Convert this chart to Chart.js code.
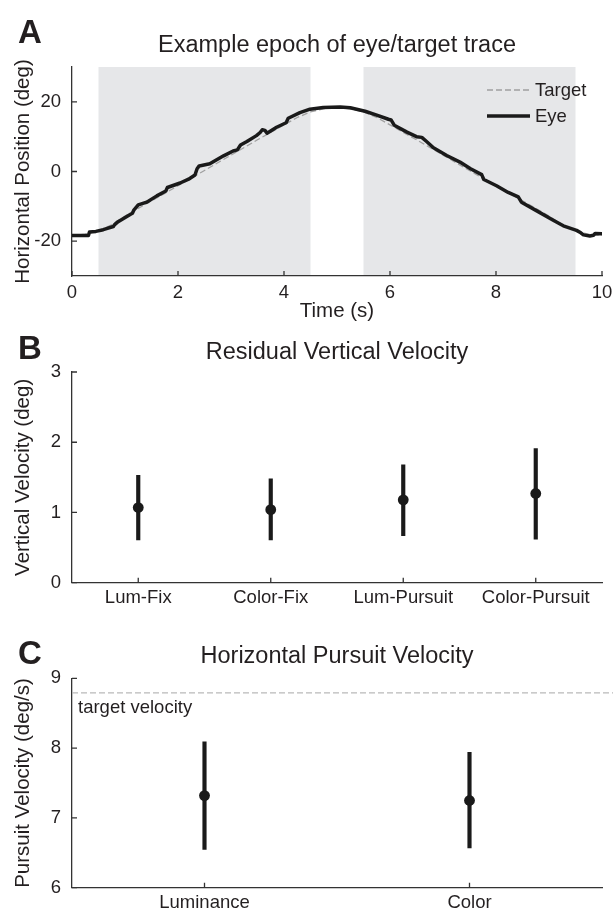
<!DOCTYPE html>
<html>
<head>
<meta charset="utf-8">
<script src="https://cdn.jsdelivr.net/npm/chart.js@4.4.1/dist/chart.umd.min.js"></script>
<style>
  html, body { margin: 0; padding: 0; background: #fff; }
  #wrap { position: relative; width: 613px; height: 912px; }
  canvas { position: absolute; left: 0; }
</style>
</head>
<body>
<div id="wrap">
  <canvas id="chartA" width="613" height="330" style="top:0px"></canvas>
  <canvas id="chartB" width="613" height="285" style="top:330px"></canvas>
  <canvas id="chartC" width="613" height="297" style="top:615px"></canvas>
</div>
<script>
// A - eye / target trace
const targetTime = [0, 0.25, 0.5, 0.75, 1, 1.25, 1.5, 1.75, 2, 2.25, 2.5, 2.75, 3, 3.25, 3.5, 3.75, 4, 4.25, 4.5, 4.75,
  5, 5.25, 5.5, 5.75, 6, 6.25, 6.5, 6.75, 7, 7.25, 7.5, 7.75, 8, 8.25, 8.5, 8.75, 9, 9.25, 9.5, 9.75, 10];
const targetPos = [-18.3, -18.0, -17.1, -15.3, -12.8, -10.6, -8.4, -6.3, -4.1, -1.9, 0.3, 2.5, 4.7, 6.9, 9.1, 11.2, 13.4, 15.5, 17.1, 18.0,
  18.3, 18.0, 17.1, 15.5, 13.4, 11.2, 9.1, 6.9, 4.7, 2.5, 0.3, -1.9, -4.1, -6.3, -8.4, -10.6, -12.8, -15.3, -17.1, -18.0, -18.3];
const eyeTime = [0, 0.31, 0.33, 0.45, 0.59, 0.78, 0.8, 0.87, 1.09, 1.14, 1.17, 1.25, 1.41, 1.6, 1.77, 1.8, 2.04, 2.2, 2.32, 2.36,
  2.4, 2.6, 2.86, 3.04, 3.12, 3.18, 3.3, 3.48, 3.55, 3.59, 3.64, 3.68, 3.86, 4.04, 4.08, 4.3, 4.49, 4.74, 5.06, 5.25,
  5.53, 5.75, 5.97, 6.02, 6.08, 6.32, 6.5, 6.6, 6.69, 6.82, 7.07, 7.32, 7.52, 7.73, 7.77, 8.01, 8.23, 8.42, 8.48, 8.77,
  9.08, 9.27, 9.52, 9.6, 9.65, 9.77, 9.84, 9.87, 10];
const eyePos = [-18.4, -18.4, -17.4, -17.2, -16.7, -15.8, -15.3, -14.4, -12.4, -12.0, -11.0, -9.6, -8.8, -7.0, -5.6, -4.6, -3.3, -2.2, -1.0, 0.8,
  1.6, 2.2, 4.5, 5.9, 6.2, 7.6, 8.6, 10.3, 11.2, 12.0, 11.8, 11.0, 12.7, 14.0, 15.3, 16.9, 17.9, 18.4, 18.5, 18.3,
  17.3, 16.2, 15.0, 14.8, 13.3, 11.3, 10.0, 9.8, 8.6, 6.8, 4.6, 2.7, 0.8, -0.9, -2.3, -4.1, -6.0, -7.3, -8.8, -11.3,
  -14.0, -15.6, -16.9, -17.6, -18.2, -18.5, -18.3, -17.8, -17.9];
const shadeStart = [0.5, 5.5];
const shadeEnd = [4.5, 9.5];
const positionTicks = [-20, 0, 20];

// B - residual vertical velocity
const vertCategories = ['Lum-Fix', 'Color-Fix', 'Lum-Pursuit', 'Color-Pursuit'];
const vertMean = [1.07, 1.04, 1.18, 1.27];
const vertLow = [0.61, 0.61, 0.67, 0.62];
const vertHigh = [1.53, 1.48, 1.68, 1.91];

// C - horizontal pursuit velocity
const pursuitCategories = ['Luminance', 'Color'];
const pursuitMean = [7.32, 7.25];
const pursuitLow = [6.55, 6.57];
const pursuitHigh = [8.09, 7.94];
const targetVelocity = 8.79;

const ink = '#231f20';
const axisColor = '#333333';
const fontFamily = '"Liberation Sans", Arial, Helvetica, sans-serif';

Chart.defaults.font.family = fontFamily;
Chart.defaults.color = ink;
Chart.defaults.animation = false;
Chart.defaults.plugins.legend.display = false;
Chart.defaults.plugins.tooltip.enabled = false;

// ticks pointing into the plot, like the original figure
const innerTicks = {
  id: 'innerTicks',
  afterDraw(chart) {
    const { ctx, chartArea: a, scales: { x, y } } = chart;
    ctx.save();
    ctx.strokeStyle = axisColor;
    ctx.lineWidth = 1.3;
    ctx.beginPath();
    x.ticks.forEach((t, i) => {
      const px = x.getPixelForTick(i);
      ctx.moveTo(px, a.bottom);
      ctx.lineTo(px, a.bottom - 5);
    });
    y.ticks.forEach((t, i) => {
      const py = y.getPixelForTick(i);
      ctx.moveTo(a.left, py);
      ctx.lineTo(a.left + 5, py);
    });
    ctx.stroke();
    ctx.restore();
  }
};

const panelText = {
  id: 'panelText',
  afterDraw(chart, args, opts) {
    const { ctx, chartArea: a } = chart;
    ctx.save();
    ctx.fillStyle = ink;
    ctx.textBaseline = 'alphabetic';
    ctx.textAlign = 'left';
    ctx.font = 'bold 33px ' + fontFamily;
    ctx.fillText(opts.letter, 18, opts.letterBaseline);
    ctx.textAlign = 'center';
    ctx.font = '23.5px ' + fontFamily;
    ctx.fillText(opts.title, (a.left + a.right) / 2, opts.titleBaseline);
    ctx.restore();
  }
};

const shading = {
  id: 'shading',
  beforeDraw(chart, args, opts) {
    const { ctx, chartArea: a, scales: { x } } = chart;
    ctx.save();
    ctx.fillStyle = '#e6e7e9';
    opts.start.forEach((s, i) => {
      const x0 = x.getPixelForValue(s);
      const x1 = x.getPixelForValue(opts.end[i]);
      ctx.fillRect(x0, a.top, x1 - x0, a.bottom - a.top);
    });
    ctx.restore();
  }
};

const insideLegend = {
  id: 'insideLegend',
  afterDraw(chart) {
    const { ctx, chartArea: a } = chart;
    ctx.save();
    ctx.font = '18.5px ' + fontFamily;
    ctx.textBaseline = 'middle';
    ctx.textAlign = 'left';
    chart.data.datasets.forEach((ds, i) => {
      const y = a.top + 23 + i * 26;
      ctx.strokeStyle = ds.borderColor;
      ctx.lineWidth = ds.borderWidth;
      ctx.setLineDash(ds.borderDash || []);
      ctx.beginPath();
      ctx.moveTo(a.right - 115, y);
      ctx.lineTo(a.right - 72, y);
      ctx.stroke();
      ctx.setLineDash([]);
      ctx.fillStyle = ink;
      ctx.fillText(ds.label, a.right - 67, y + 1);
    });
    ctx.restore();
  }
};

const targetLine = {
  id: 'targetLine',
  beforeDatasetsDraw(chart, args, opts) {
    const { ctx, chartArea: a, scales: { y } } = chart;
    const py = y.getPixelForValue(opts.value);
    ctx.save();
    ctx.strokeStyle = '#b9b9b9';
    ctx.lineWidth = 1.2;
    ctx.setLineDash([6, 3]);
    ctx.beginPath();
    ctx.moveTo(a.left, py);
    ctx.lineTo(a.right + 11, py);
    ctx.stroke();
    ctx.setLineDash([]);
    ctx.fillStyle = ink;
    ctx.font = '18.5px ' + fontFamily;
    ctx.textAlign = 'left';
    ctx.fillText(opts.label, a.left + 6, py + 20);
    ctx.restore();
  }
};

function yAxis(min, max, title) {
  return {
    min: min,
    max: max,
    afterFit: s => { s.width = 72; s.paddingTop = 0; s.paddingBottom = 0; },
    grid: { display: false, drawTicks: false },
    border: { display: true, color: axisColor, width: 1.3 },
    ticks: { stepSize: 1, padding: 11, font: { size: 18.5 } },
    title: { display: true, text: title, font: { size: 20.5 }, padding: { top: 11 } }
  };
}

function xCategory(height) {
  return {
    type: 'category',
    offset: true,
    afterFit: s => { s.height = height; s.paddingLeft = 0; s.paddingRight = 0; },
    grid: { display: false, drawTicks: false },
    border: { display: true, color: axisColor, width: 1.3 },
    ticks: { padding: 4, font: { size: 18.5 }, maxRotation: 0, autoSkip: false }
  };
}

// A
const yA = yAxis(-30, 30, 'Horizontal Position (deg)');
yA.afterBuildTicks = s => { s.ticks = positionTicks.map(v => ({ value: v })); };

new Chart(document.getElementById('chartA'), {
  type: 'line',
  data: {
    datasets: [
      {
        label: 'Target',
        data: targetTime.map((t, i) => ({ x: t, y: targetPos[i] })),
        borderColor: '#a0a0a0',
        borderWidth: 1.3,
        borderDash: [6, 3],
        pointRadius: 0,
        tension: 0,
        order: 1
      },
      {
        label: 'Eye',
        data: eyeTime.map((t, i) => ({ x: t, y: eyePos[i] })),
        borderColor: '#1a1a1a',
        borderWidth: 3.5,
        borderJoinStyle: 'round',
        borderCapStyle: 'round',
        pointRadius: 0,
        tension: 0,
        order: 0
      }
    ]
  },
  options: {
    responsive: false,
    layout: { padding: { top: 67, right: 11, left: 0, bottom: 0 } },
    scales: {
      x: {
        type: 'linear',
        min: 0,
        max: 10,
        afterFit: s => { s.height = 54; s.paddingLeft = 0; s.paddingRight = 0; },
        grid: { display: false, drawTicks: false },
        border: { display: true, color: axisColor, width: 1.3 },
        ticks: { stepSize: 2, padding: 6, font: { size: 18.5 }, maxRotation: 0 },
        title: { display: true, text: 'Time (s)', font: { size: 20.5 }, padding: { bottom: 6.7 } }
      },
      y: yA
    },
    plugins: {
      shading: { start: shadeStart, end: shadeEnd },
      panelText: { letter: 'A', title: 'Example epoch of eye/target trace', letterBaseline: 43, titleBaseline: 52 }
    }
  },
  plugins: [shading, innerTicks, insideLegend, panelText]
});

// B
new Chart(document.getElementById('chartB'), {
  type: 'bar',
  data: {
    labels: vertCategories,
    datasets: [
      {
        type: 'line',
        label: 'mean',
        data: vertMean,
        showLine: false,
        pointRadius: 5.4,
        pointBackgroundColor: '#1a1a1a',
        pointBorderWidth: 0,
        order: 0
      },
      {
        type: 'bar',
        label: 'range',
        data: vertLow.map((v, i) => [v, vertHigh[i]]),
        backgroundColor: '#1a1a1a',
        barThickness: 3.5,
        order: 1
      }
    ]
  },
  options: {
    responsive: false,
    layout: { padding: { top: 42, right: 11, left: 0, bottom: 0 } },
    scales: {
      x: xCategory(32.3),
      y: yAxis(0, 3, 'Vertical Velocity (deg)')
    },
    plugins: {
      panelText: { letter: 'B', title: 'Residual Vertical Velocity', letterBaseline: 28.5, titleBaseline: 29 }
    }
  },
  plugins: [innerTicks, panelText]
});

// C
new Chart(document.getElementById('chartC'), {
  type: 'bar',
  data: {
    labels: pursuitCategories,
    datasets: [
      {
        type: 'line',
        label: 'mean',
        data: pursuitMean,
        showLine: false,
        pointRadius: 5.4,
        pointBackgroundColor: '#1a1a1a',
        pointBorderWidth: 0,
        order: 0
      },
      {
        type: 'bar',
        label: 'range',
        data: pursuitLow.map((v, i) => [v, pursuitHigh[i]]),
        backgroundColor: '#1a1a1a',
        barThickness: 3.5,
        order: 1
      }
    ]
  },
  options: {
    responsive: false,
    layout: { padding: { top: 63.3, right: 11, left: 0, bottom: 0 } },
    scales: {
      x: xCategory(24.3),
      y: yAxis(6, 9, 'Pursuit Velocity (deg/s)')
    },
    plugins: {
      targetLine: { value: targetVelocity, label: 'target velocity' },
      panelText: { letter: 'C', title: 'Horizontal Pursuit Velocity', letterBaseline: 48.5, titleBaseline: 48 }
    }
  },
  plugins: [targetLine, innerTicks, panelText]
});
</script>
</body>
</html>
